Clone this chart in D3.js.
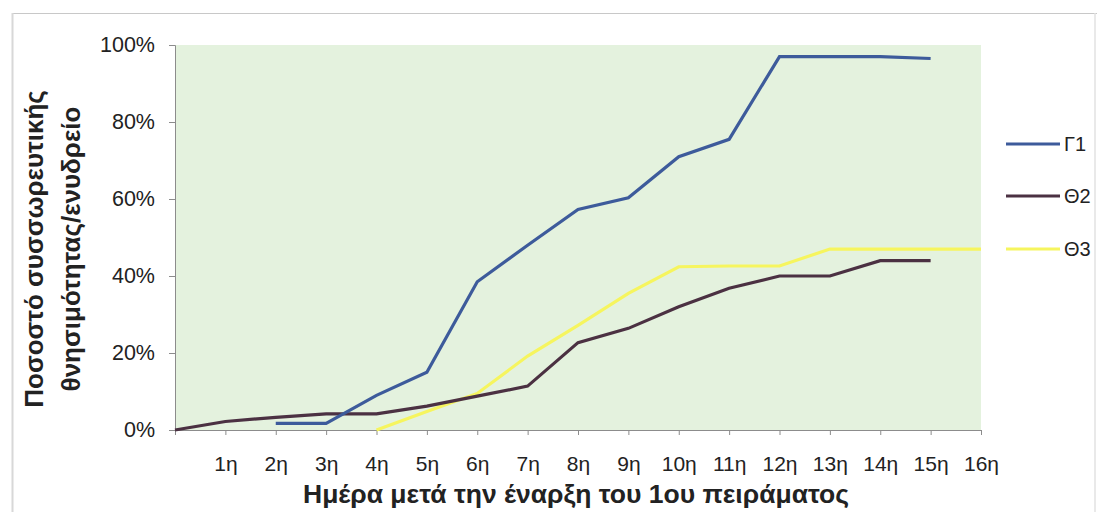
<!DOCTYPE html>
<html><head><meta charset="utf-8">
<script src="https://cdn.jsdelivr.net/npm/d3@7"></script>
<style>html,body{margin:0;padding:0;background:#fff;}svg{display:block;font-family:"Liberation Sans",Arial,sans-serif;}</style>
</head><body>
<svg id="c" width="1097" height="512"></svg>
<script>
const days = [0,1,2,3,4,5,6,7,8,9,10,11,12,13,14,15,16];
const dayLabels = ["","1η","2η","3η","4η","5η","6η","7η","8η","9η","10η","11η","12η","13η","14η","15η","16η"];
const yTicks = [0,20,40,60,80,100];
const seriesNames = ["Γ1","Θ2","Θ3"];
const g1 = [null,null,1.7,1.7,9,15,38.5,48,57.3,60.3,71,75.5,97,97,97,96.5,null];
const t2 = [0,2.2,3.3,4.2,4.2,6.2,8.8,11.4,22.7,26.4,32,36.8,40,40,44,44,null];
const t3 = [null,null,null,null,0,4.8,9.5,19.2,27.2,35.5,42.4,42.6,42.6,47,47,47,47];
const colors = ["#3d5b9b","#4b3142","#f6f55e"];

const svg = d3.select("#c");
const L=175,R=981,T=45,B=430;
const x = d3.scalePoint().domain(days).range([L,R]);
const y = d3.scaleLinear().domain([0,100]).range([B,T]);

svg.append("defs").append("clipPath").attr("id","clipR")
  .append("rect").attr("x",0).attr("y",0).attr("width",1094).attr("height",512);

// outer frame
svg.append("line").attr("x1",12).attr("x2",1097).attr("y1",13.5).attr("y2",13.5).attr("stroke","#c8c8c8");
svg.append("line").attr("x1",12.5).attr("x2",12.5).attr("y1",13).attr("y2",512).attr("stroke","#d8d8d8").attr("stroke-width",2);
svg.append("line").attr("x1",1095).attr("x2",1095).attr("y1",13).attr("y2",512).attr("stroke","#e2e2e2").attr("stroke-width",1.5);

// plot background
svg.append("rect").attr("x",L).attr("y",T).attr("width",R-L).attr("height",B-T).attr("fill","#e4f2de");

// y axis
const ya = svg.append("g").attr("transform",`translate(${L},0)`)
  .call(d3.axisLeft(y).tickValues(yTicks).tickFormat(d=>d+"%").tickSize(6).tickPadding(14));
ya.select(".domain").attr("stroke","#8c8c8c");
ya.selectAll(".tick line").attr("stroke","#8c8c8c");
ya.selectAll("text").attr("font-size",21.5).attr("fill","#222").attr("font-family","'Liberation Sans',Arial,sans-serif");

// x axis
const xa = svg.append("g").attr("transform",`translate(0,${B})`)
  .call(d3.axisBottom(x).tickFormat((d,i)=>dayLabels[i]).tickSize(5).tickPadding(21));
xa.select(".domain").attr("stroke","#8c8c8c");
xa.selectAll(".tick line").attr("stroke","#8c8c8c");
xa.selectAll("text").attr("font-size",21).attr("fill","#222").attr("font-family","'Liberation Sans',Arial,sans-serif");

// lines
const line = d3.line().defined(d=>d[1]!==null).x(d=>x(d[0])).y(d=>y(d[1]));
[t3,t2,g1].forEach((s,k)=>{
  const idx = [2,1,0][k];
  svg.append("path").datum(days.map((d,i)=>[d,s[i]]))
    .attr("d",line).attr("fill","none").attr("stroke",colors[idx])
    .attr("stroke-width",3.2).attr("stroke-linejoin","miter");
});

// axis titles
svg.append("text").attr("x",576).attr("y",503).attr("text-anchor","middle")
  .attr("font-size",26.5).attr("font-weight","bold").attr("fill","#222")
  .text("Ημέρα μετά την έναρξη του 1ου πειράματος");
const yt = svg.append("text").attr("transform","translate(0,249) rotate(-90)")
  .attr("text-anchor","middle").attr("font-size",26).attr("font-weight","bold").attr("fill","#222");
yt.append("tspan").attr("x",0).attr("y",43).text("Ποσοστό συσσωρευτικής");
yt.append("tspan").attr("x",0).attr("y",80).text("θνησιμότητας/ενυδρείο");

// legend
const legY = [144,196,249];
const lg = svg.append("g").attr("clip-path","url(#clipR)");
seriesNames.forEach((n,i)=>{
  lg.append("line").attr("x1",1006).attr("x2",1060).attr("y1",legY[i]).attr("y2",legY[i])
    .attr("stroke",colors[i]).attr("stroke-width",3);
  lg.append("text").attr("x",1064).attr("y",legY[i]+7).attr("font-size",20).attr("fill","#222").text(n);
});
</script>
</body></html>
